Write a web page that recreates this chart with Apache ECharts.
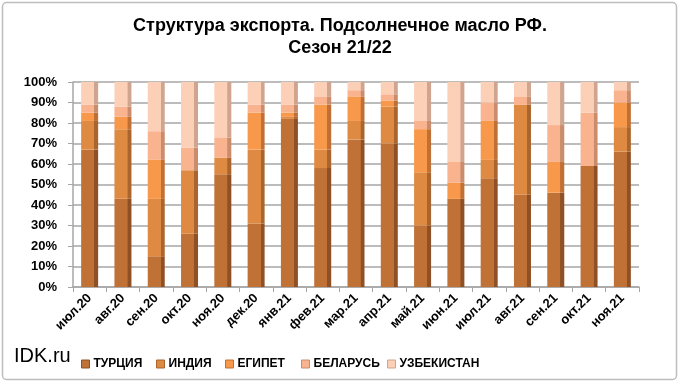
<!DOCTYPE html>
<html><head><meta charset="utf-8">
<script src="https://cdn.jsdelivr.net/npm/echarts@6/dist/echarts.min.js"></script>
<style>html,body{margin:0;padding:0;background:#fff}#c{width:680px;height:384px}</style>
</head><body><div id="c"></div>
<script>
const categories = ['июл.20','авг.20','сен.20','окт.20','ноя.20','дек.20','янв.21','фев.21','мар.21','апр.21','май.21','июн.21','июл.21','авг.21','сен.21','окт.21','ноя.21'];
const turkey     = [67, 43, 15, 26, 55, 31, 82, 58, 72, 70, 30, 43, 53, 45, 46, 59, 66];
const india      = [14, 34, 28, 31,  8, 36,  1,  9,  9, 18, 26,  0,  9, 44,  0,  0, 12];
const egypt      = [ 4,  6, 19,  0,  0, 18,  2, 22, 12,  3, 21,  8, 19,  0, 15,  0, 12];
const belarus    = [ 4,  5, 14, 11, 10,  4,  4,  4,  3,  3,  4, 10,  9,  4, 18, 26,  6];
const uzbekistan = [11, 12, 24, 32, 27, 11, 11,  7,  4,  6, 19, 39, 10,  7, 21, 15,  4];
const yTicks = ['0%','10%','20%','30%','40%','50%','60%','70%','80%','90%','100%'];

const FONT = '"Liberation Sans Narrow","Arial Narrow","Liberation Sans",Arial,sans-serif';
function grad(front, side) {
  return new echarts.graphic.LinearGradient(0, 0, 1, 0, [
    {offset: 0, color: front}, {offset: 0.76, color: front},
    {offset: 0.78, color: side}, {offset: 1, color: side}
  ]);
}
const seriesDefs = [
  ['ТУРЦИЯ', turkey, '#C07236', '#8E5024'],
  ['ИНДИЯ', india, '#DE8A42', '#A9652D'],
  ['ЕГИПЕТ', egypt, '#F7984A', '#C07035'],
  ['БЕЛАРУСЬ', belarus, '#F9B48F', '#C98C6D'],
  ['УЗБЕКИСТАН', uzbekistan, '#FCCFB7', '#CFA58F']
];
const legendLefts = [76, 151, 220, 296, 382];
const chart = echarts.init(document.getElementById('c'), null, {renderer: 'canvas'});
chart.setOption({
  animation: false,
  backgroundColor: '#fff',
  title: {
    text: 'Структура экспорта. Подсолнечное масло РФ.\nСезон 21/22',
    left: 'center', top: 10,
    textStyle: {fontFamily: FONT, fontWeight: 'bold', fontSize: 18, lineHeight: 22, color: '#000'}
  },
  graphic: [
    {type: 'rect', shape: {x: 2.5, y: 2.5, width: 674, height: 377, r: 4}, style: {fill: 'none', stroke: '#BDBDBD', lineWidth: 1.5}, z: -1},
    {type: 'text', left: 14, top: 346, style: {text: 'IDK.ru', fontFamily: 'Liberation Sans, Arial, sans-serif', fontSize: 20, fill: '#000'}}
  ],
  legend: seriesDefs.map((d, i) => ({
    left: legendLefts[i], top: 353, itemWidth: 8, itemHeight: 8, itemGap: 6, icon: 'rect',
    textStyle: {fontFamily: FONT, fontWeight: 'bold', fontSize: 12, color: '#000', padding: [0, 0, 0, -1]},
    data: [{name: d[0], itemStyle: {color: d[2], borderColor: d[3], borderWidth: 1}}]
  })),
  grid: {left: 73, right: 41, top: 82, bottom: 97},
  xAxis: {
    type: 'category', data: categories,
    axisLine: {show: true, lineStyle: {color: '#A6A6A6', width: 1.5}},
    axisTick: {show: true, lineStyle: {color: '#A6A6A6'}, length: 5},
    axisLabel: {rotate: 45, fontFamily: FONT, fontWeight: 'bold', fontSize: 13, color: '#000', margin: 9, interval: 0}
  },
  yAxis: {
    type: 'value', min: 0, max: 100, interval: 10,
    axisLine: {show: true, lineStyle: {color: '#A6A6A6', width: 1.5}},
    axisTick: {show: true, lineStyle: {color: '#A6A6A6'}, length: 5},
    splitLine: {lineStyle: {color: '#A6A6A6', width: 1.5}},
    axisLabel: {fontFamily: FONT, fontWeight: 'bold', fontSize: 13, color: '#000', margin: 16,
      formatter: v => yTicks[Math.round(v / 10)]}
  },
  series: seriesDefs.map(d => ({
    name: d[0], type: 'bar', stack: 'total', data: d[1], barWidth: 17,
    itemStyle: {color: grad(d[2], d[3])}
  }))
});
</script></body></html>
